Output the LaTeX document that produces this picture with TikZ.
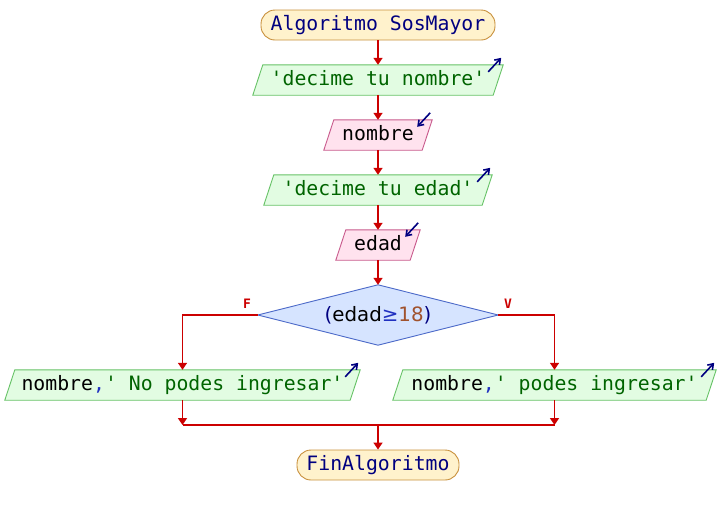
\documentclass[tikz,border=0pt]{standalone}
\usepackage{fontspec}
\setmonofont{DejaVu Sans Mono}
\newfontfamily\djsans{DejaVu Sans}
\usetikzlibrary{arrows.meta,backgrounds,calc}
\definecolor{flowred}{HTML}{CC0000}
\definecolor{termfill}{HTML}{FFF2CC}
\definecolor{termdraw}{HTML}{C8903C}
\definecolor{outfill}{HTML}{E2FCE2}
\definecolor{outdraw}{HTML}{66C266}
\definecolor{infill}{HTML}{FFE2EE}
\definecolor{indraw}{HTML}{C85A8C}
\definecolor{decfill}{HTML}{D6E4FF}
\definecolor{decdraw}{HTML}{4A68C8}
\definecolor{strgreen}{HTML}{006400}
\definecolor{kwnavy}{HTML}{000080}
\definecolor{numbrown}{HTML}{A0522D}
\definecolor{opblue}{HTML}{2030C0}
\tikzset{
  x=1pt, y=-1pt,
  txt/.style={font=\ttfamily\fontsize{19.8}{20}\selectfont, inner sep=0pt, text height=14pt, text depth=4pt},
  term/.style={txt, draw=termdraw, fill=termfill, line width=0.9pt, rounded corners=14pt, minimum height=30pt, text=kwnavy},
  iobox/.style={txt, minimum height=30pt},
  flow/.style={draw=flowred, line width=1.6pt, -{Triangle[length=7pt,width=9pt]}},
  flowline/.style={draw=flowred, line width=1.6pt},
  smallarrow/.style={draw=kwnavy, line width=1.6pt, -{Straight Barb[length=5pt,width=7pt]}},
  tflabel/.style={text=flowred, font=\ttfamily\bfseries\fontsize{13}{14}\selectfont, inner sep=0pt},
}
\newcommand\outshape[1]{%
  \begin{scope}[on background layer]
  \draw[draw=outdraw, fill=outfill, line width=0.9pt]
    ([xshift=-5pt]#1.south west) -- ([xshift=5pt]#1.north west) --
    ([xshift=5pt]#1.north east) -- ([xshift=-5pt]#1.south east) -- cycle;
  \end{scope}
  \draw[smallarrow] ([xshift=-10pt,yshift=-7pt]#1.north east) -- ([xshift=3pt,yshift=7pt]#1.north east);}
\newcommand\inshape[1]{%
  \begin{scope}[on background layer]
  \draw[draw=indraw, fill=infill, line width=0.9pt]
    ([xshift=-5pt]#1.south west) -- ([xshift=5pt]#1.north west) --
    ([xshift=5pt]#1.north east) -- ([xshift=-5pt]#1.south east) -- cycle;
  \end{scope}
  \draw[smallarrow] ([xshift=3pt,yshift=7pt]#1.north east) -- ([xshift=-10pt,yshift=-7pt]#1.north east);}
\begin{document}
\begin{tikzpicture}
\useasboundingbox (0,0) rectangle (720,515);
\node[term, minimum width=234pt] (start) at (378,25) {Algoritmo SosMayor};
\node[iobox, minimum width=240pt, text=strgreen] (o1) at (378,80) {'decime tu nombre'};
\node[iobox, minimum width=98pt] (i1) at (378,135) {nombre};
\node[iobox, minimum width=218pt, text=strgreen] (o2) at (378,190) {'decime tu edad'};
\node[iobox, minimum width=74pt] (i2) at (378,245) {edad};
\node[inner sep=0pt, minimum width=240pt, minimum height=60pt,
      font=\djsans\fontsize{19.8}{20}\selectfont] (d) at (378,315)
  {\textcolor{kwnavy}{(}edad\textcolor{opblue}{≥}\textcolor{numbrown}{18}\textcolor{kwnavy}{)}};
\node[iobox, minimum width=345pt] (ol) at (182.5,385)
  {nombre\textcolor{opblue}{,}\textcolor{strgreen}{' No podes ingresar'}};
\node[iobox, minimum width=313pt] (or) at (554.5,385)
  {nombre\textcolor{opblue}{,}\textcolor{strgreen}{' podes ingresar'}};
\node[term, minimum width=162pt] (fin) at (378,465) {FinAlgoritmo};
\node[tflabel] (lf) at (247,304) {F};
\node[tflabel] (lv) at (508,304) {V};

\outshape{o1}
\inshape{i1}
\outshape{o2}
\inshape{i2}
\outshape{ol}
\outshape{or}
\begin{scope}[on background layer]
\draw[draw=decdraw, fill=decfill, line width=0.9pt] (d.north) -- (d.east) -- (d.south) -- (d.west) -- cycle;
\end{scope}

\draw[flow] (start.south) -- (o1.north);
\draw[flow] (o1.south) -- (i1.north);
\draw[flow] (i1.south) -- (o2.north);
\draw[flow] (o2.south) -- (i2.north);
\draw[flow] (i2.south) -- (d.north);
\draw[flow] (d.west) -| (ol.north);
\draw[flow] (d.east) -| (or.north);
\coordinate (ml) at (182.5,425);
\coordinate (mr) at (554.5,425);
\coordinate (mm) at (378,425);
\draw[flow] (ol.south) -- (ml);
\draw[flow] (or.south) -- (mr);
\draw[flowline] (ml) -- (mr);
\draw[flow] (mm) -- (fin.north);
\end{tikzpicture}
\end{document}
